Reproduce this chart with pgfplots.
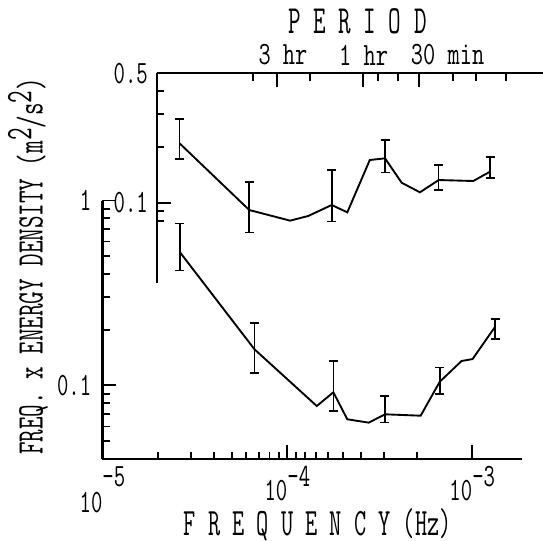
\documentclass[border=0pt]{standalone}
\usepackage{graphicx}
\usepackage{pgfplots}
\usepackage{pgfplotstable}
\pgfplotsset{compat=1.18}

% 1 px of the reference = 0.4pt
\newcommand\px{0.4pt}
\newcommand\cz[2][0.68]{\scalebox{#1}[1]{#2}}
% 10^e with a big exponent: #1 exponent, #2 drop of the "10"
\newcommand\xl[2]{\cz{\raisebox{-#2}{10}\raisebox{5.4pt}{#1}}}

% upper curve (freq. in Hz, value)
\pgfplotstableread{
f        y
2.61e-5  0.2094
6.22e-5  0.0913
1.035e-4 0.0800
1.296e-4 0.0848
1.737e-4 0.0972
2.109e-4 0.0887
2.79e-4  0.1701
3.373e-4 0.1737
4.15e-4  0.1282
5.21e-4  0.1138
6.58e-4  0.1326
1.012e-3 0.1310
1.247e-3 0.1471
}\upperline

\pgfplotstableread{
f        y      lo     hi
2.61e-5  0.2094 0.1716 0.2833
6.22e-5  0.0913 0.0692 0.1289
1.737e-4 0.0972 0.0790 0.1502
3.373e-4 0.1737 0.1453 0.2182
6.58e-4  0.1326 0.1171 0.1598
1.247e-3 0.1471 0.1365 0.1772
}\uppererr

% lower curve
\pgfplotstableread{
f        y
2.625e-5 0.5248
6.64e-5  0.1568
1.442e-4 0.0774
1.774e-4 0.0918
2.109e-4 0.0656
2.755e-4 0.0629
3.373e-4 0.0698
5.26e-4  0.0686
6.67e-4  0.1047
8.75e-4  0.1355
1.004e-3 0.1389
1.33e-3  0.2078
}\lowerline

\pgfplotstableread{
f        y      lo     hi
2.625e-5 0.5248 0.4174 0.7527
6.64e-5  0.1568 0.1163 0.2184
1.774e-4 0.0918 0.0727 0.1355
3.373e-4 0.0698 0.0629 0.0877
6.67e-4  0.1047 0.0899 0.1253
1.33e-3  0.2078 0.1776 0.2278
}\lowererr

\begin{document}
\begin{tikzpicture}

% lower panel
\begin{axis}[
  scale only axis, xmode=log, ymode=log, clip=false,
  at={(41pt,-183.6pt)}, anchor=south west,
  width=167.8pt, height=103.4pt,
  xmin=1e-5, xmax=1.858e-3, ymin=0.04, ymax=1,
  axis x line*=bottom, axis y line*=left,
  axis line style={line width=0.9pt},
  tick style={black, line width=0.75pt},
  tick align=inside,
  major tick length=5.6pt, minor tick length=3pt,
  ticklabel style={font=\ttfamily\fontsize{13}{13}\selectfont},
  xtick={1e-5,1e-4,1e-3},
  xticklabels={\xl{-5}{4.8pt},\xl{-4}{0pt},\xl{-3}{0pt}},
  minor xtick={2e-5,3e-5,4e-5,5e-5,6e-5,7e-5,8e-5,9e-5,
    1.1111e-4,1.25e-4,1.4286e-4,1.6667e-4,2e-4,2.5e-4,3.3333e-4,5e-4},
  xticklabel style={anchor=base, yshift=-16.4pt},
  ytick={0.1,1}, yticklabels={\cz{0.1},\cz{1}},
  yticklabel style={xshift=-1pt},
  minor ytick={0.05,0.06,0.07,0.08,0.09,0.2,0.3,0.4,0.5,0.6,0.7,0.8,0.9},
]
\addplot[black, line width=0.75pt, mark=none] table[x=f, y=y] {\lowerline};
\addplot[draw=none, mark=none, forget plot,
  error bars/y dir=both, error bars/y explicit,
  error bars/error bar style={draw=black, solid, line width=0.65pt},
  error bars/error mark options={rotate=90, draw=black, solid, line width=0.65pt, mark size=1.8pt}]
  table[x=f, y=y,
  y error plus expr=\thisrow{hi}-\thisrow{y},
  y error minus expr=\thisrow{y}-\thisrow{lo}] {\lowererr};
\end{axis}

% upper panel
\begin{axis}[
  scale only axis, xmode=log, ymode=log, clip=false,
  at={(62.68pt,-113.32pt)}, anchor=south west,
  width=154.52pt, height=84pt,
  xmin=1.964e-5, xmax=2.412e-3, ymin=0.0367, ymax=0.5,
  axis x line*=top, axis y line*=left,
  axis line style={line width=0.9pt},
  tick style={black, line width=0.75pt},
  tick align=inside,
  major tick length=5.6pt, minor tick length=3pt,
  ticklabel style={font=\ttfamily\fontsize{13}{13}\selectfont},
  xtick={8.75e-5,2.573e-4,5.168e-4}, xticklabels={},
  minor xtick={6.54e-5,1.325e-4,3.101e-4,3.949e-4,7.83e-4,1.047e-3,1.521e-3},
  ytick={0.1,0.5}, yticklabels={\cz{0.1},\cz{0.5}},
  minor ytick={0.08,0.09,0.2,0.3,0.4},
]
\addplot[black, line width=0.75pt, mark=none] table[x=f, y=y] {\upperline};
\addplot[draw=none, mark=none, forget plot,
  error bars/y dir=both, error bars/y explicit,
  error bars/error bar style={draw=black, solid, line width=0.65pt},
  error bars/error mark options={rotate=90, draw=black, solid, line width=0.65pt, mark size=1.8pt}]
  table[x=f, y=y,
  y error plus expr=\thisrow{hi}-\thisrow{y},
  y error minus expr=\thisrow{y}-\thisrow{lo}] {\uppererr};
\end{axis}

% titles and labels
\begin{scope}[every node/.style={inner sep=0pt, font=\ttfamily}]
\node at (357.5*\px,-21.7*\px) {\fontsize{16}{16}\selectfont\cz[0.61]{P E R I O D}};
\node at (283*\px,-55*\px) {\fontsize{13}{13}\selectfont\cz[0.73]{3 hr}};
\node at (363.6*\px,-55*\px) {\fontsize{13}{13}\selectfont\cz[0.73]{1 hr}};
\node at (447.6*\px,-55*\px) {\fontsize{13}{13}\selectfont\cz[0.73]{30 min}};
\node at (317.7*\px,-525*\px) {\fontsize{15.5}{15.5}\selectfont\cz[0.61]{F R E Q U E N C Y (Hz)}};
\node[rotate=90] at (28*\px,-266.5*\px) {\fontsize{15}{15}\selectfont
  \cz[0.65]{FREQ. x ENERGY DENSITY (m\raisebox{0.7ex}{2}/s\raisebox{0.7ex}{2})}};
\end{scope}

\pgfresetboundingbox
\path[use as bounding box] (0,0) rectangle (543*\px,-541*\px);
\end{tikzpicture}
\end{document}
